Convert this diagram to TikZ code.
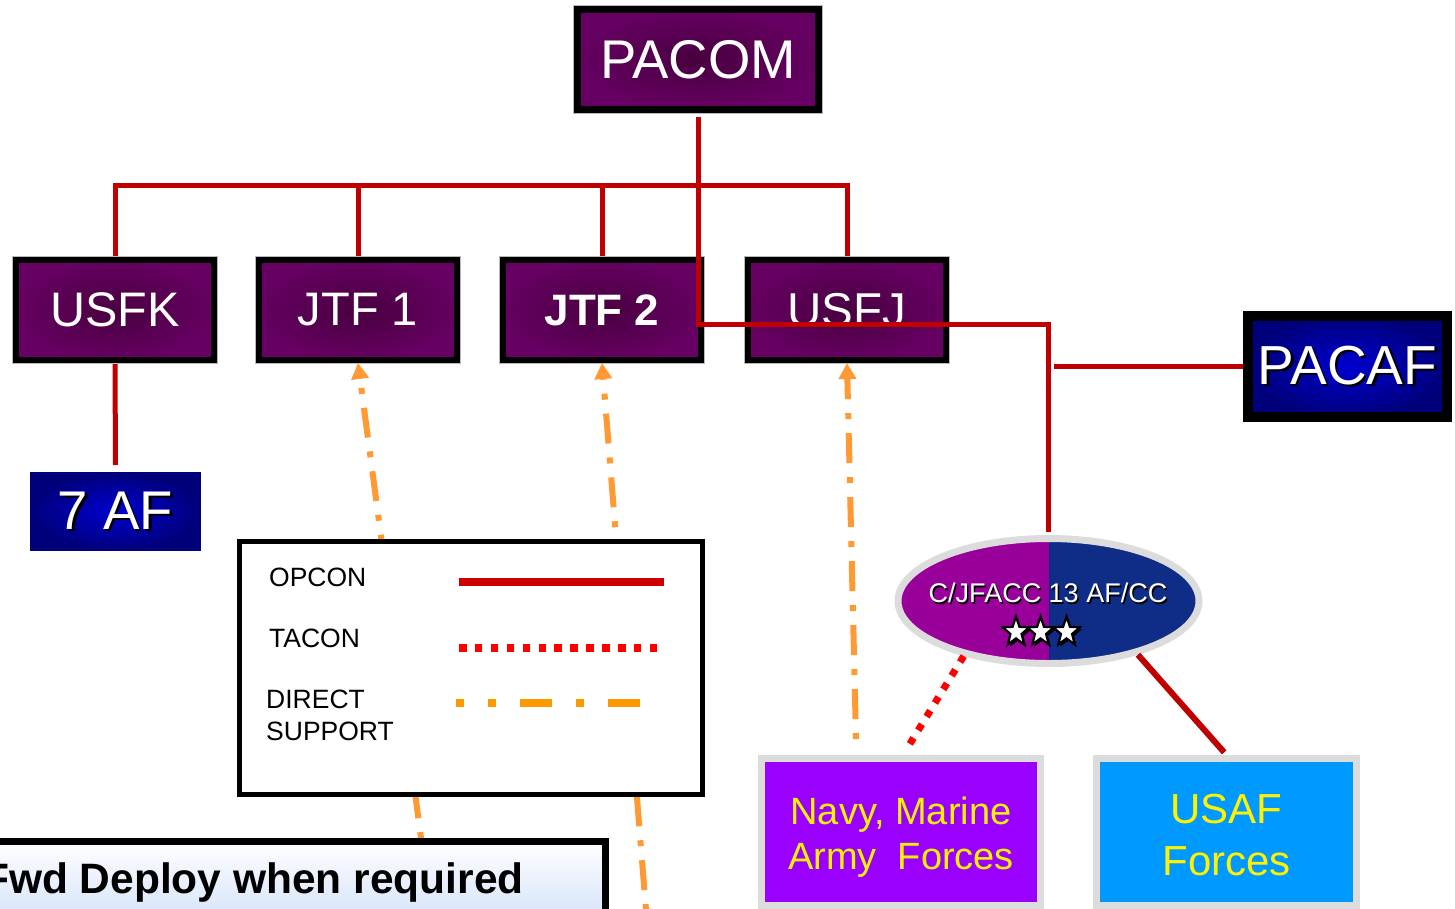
\documentclass[tikz,border=0pt]{standalone}
\usepackage{fontspec}
\setmainfont{Liberation Sans}
\usetikzlibrary{arrows.meta,shapes.geometric}
\pgfdeclarelayer{bg}
\pgfsetlayers{bg,main}
\definecolor{pin}{HTML}{48003F}
\definecolor{pout}{HTML}{660062}
\definecolor{bin}{HTML}{0000D0}
\definecolor{bout}{HTML}{00007A}
\definecolor{opc}{HTML}{C00000}
\definecolor{opcl}{HTML}{CC0000}
\definecolor{tac}{HTML}{FF0000}
\definecolor{dso}{HTML}{FF9933}
\definecolor{dsl}{HTML}{FF9900}
\definecolor{elp}{HTML}{990099}
\definecolor{eln}{HTML}{0F2D87}
\definecolor{nvy}{HTML}{9900FF}
\definecolor{usb}{HTML}{0099FF}
\definecolor{gbr}{HTML}{DCDCDC}
\definecolor{fwdb}{HTML}{C9DBF8}
\newcommand\shtxt[2][2.5pt]{\makebox[0pt][l]{\kern#1\raisebox{-#1}{\textcolor{black}{#2}}}#2}
\newcommand\fsz[2]{\fontsize{#1}{#2}\selectfont}
\begin{document}
\begin{tikzpicture}[x=1pt,y=-1pt,
  cmdbox/.style={draw=black, line width=6pt, preaction={draw=gray!55, line width=8pt},
    inner color=pin, outer color=pout, minimum width=198pt, minimum height=100pt,
    inner sep=0pt, text=white, font=\fsz{48.5}{52}},
  opcon/.style={opc, line width=5pt},
  tacon/.style={tac, line width=7pt, dash pattern=on 7pt off 9pt},
  dsup/.style={dso, line width=6pt, dash pattern=on 6pt off 14pt on 30pt off 14pt,
    -{Triangle[length=16pt,width=17pt]}},
  forcebox/.style={draw=gbr, line width=7pt, minimum height=147pt, inner sep=0pt,
    text=yellow, align=center},
  legtxt/.style={anchor=base west, font=\fsz{26.5}{30}, inner sep=0pt},
  starw/.style={star, star points=5, star point ratio=2.4, minimum size=28pt, inner sep=0pt, transform shape}
]
\useasboundingbox (0,0) rectangle (1455,908);
\begin{pgfonlayer}{bg}
\fill[white] (0,0) rectangle (1455,908);
\end{pgfonlayer}

% command boxes
\node[cmdbox, line width=7pt, preaction={draw=gray!55, line width=9pt}, minimum width=241pt, font=\fsz{54.5}{58}] (pacom) at (698,59.5) {PACOM};
\node[cmdbox] (usfk) at (115,310) {USFK};
\node[cmdbox, font=\fsz{47}{50}] (jtf1) at (358,310) {JTF 1};
\node[cmdbox, font=\bfseries\fsz{44}{48}] (jtf2) at (602,310) {JTF 2};
\node[cmdbox, font=\fsz{47.5}{50}] (usfj) at (847,310) {USFJ};

% air force boxes
\node[draw=bout, line width=1pt, inner color=bin, outer color=bout, minimum width=170pt, minimum height=78pt,
  inner sep=0pt, text=white, font=\fsz{54.5}{58}] (af7) at (115.5,511.5) {\shtxt{7 AF}};
\node[draw=black, line width=10pt, inner color=bin, outer color=bout, minimum width=199pt, minimum height=101pt,
  inner sep=0pt, text=white, font=\fsz{55}{58}] (pacaf) at (1347.5,366.5) {\shtxt{PACAF}};

% C/JFACC ellipse
\node[ellipse, draw=gbr, line width=7pt, minimum width=301pt, minimum height=125pt, inner sep=0pt,
  path picture={
    \fill[elp] (path picture bounding box.south west) rectangle (path picture bounding box.north);
    \fill[eln] (path picture bounding box.north) rectangle (path picture bounding box.south east);}] (cj) at (1048.5,601) {};
\node[text=white, font=\fsz{27}{30}, inner sep=0pt] (cjt) at (1048,594) {\shtxt[1.5pt]{C/JFACC 13 AF/CC}};
\begin{scope}[shift={(1016,632)}, yscale=1.1]
  \node[starw, fill=black] (s1sh) at (2pt,-2pt) {};
  \node[starw, fill=white, draw=black, line width=2.2pt] (s1) at (0,0) {};
\end{scope}
\begin{scope}[shift={(1040.5,632)}, yscale=1.1]
  \node[starw, fill=black] (s2sh) at (2pt,-2pt) {};
  \node[starw, fill=white, draw=black, line width=2.2pt] (s2) at (0,0) {};
\end{scope}
\begin{scope}[shift={(1066.5,632)}, yscale=1.1]
  \node[starw, fill=black] (s3sh) at (2pt,-2pt) {};
  \node[starw, fill=white, draw=black, line width=2.2pt] (s3) at (0,0) {};
\end{scope}

% force boxes
\node[forcebox, fill=nvy, minimum width=279pt, font=\fsz{38}{45}] (navy) at (901,832) {\rule{0pt}{38pt}Navy, Marine\\Army\ \ Forces};
\node[forcebox, fill=usb, minimum width=260pt, font=\fsz{42}{52}] (usaf) at (1226.5,832) {\rule{0pt}{36pt}USAF\\Forces};

% OPCON lines (behind boxes)
\coordinate (pa) at (1054,366);
\begin{pgfonlayer}{bg}
\draw[opcon] (usfk.north) -- (usfk.north |- 0,185) -- (usfj.north |- 0,185) -- (usfj.north);
\draw[opcon] (jtf1.north) -- (jtf1.north |- 0,185);
\draw[opcon] (jtf2.north) -- (jtf2.north |- 0,185);
\draw[opcon] (usfk.south) -- ([yshift=7pt]af7.north);
\draw[opcon] (pa) -- (pa -| pacaf.west);
\end{pgfonlayer}
\draw[opcon, shorten <=3.5pt, shorten >=3.5pt] (pacom.south) -- (698,324) -- (1048.5,324) -- (cj.north);
\draw[opcon, line width=6pt, shorten >=3.5pt] (cj.-31) -- (usaf.north);
\draw[tacon, shorten >=9pt] (cj.-147) -- ([xshift=2pt]navy.north);

% direct support lines
\coordinate (d1) at (421,838);
\coordinate (d2) at (646,910);
\draw[dsup] (d1) -- (jtf1.south);
\draw[dsup] (d2) -- (jtf2.south);
\draw[dsup] ([xshift=-45pt,yshift=16pt]navy.north) -- (usfj.south);

% legend
\node[draw=black, line width=5pt, fill=white, minimum width=463pt, minimum height=253pt, inner sep=0pt] (legend) at (471,668) {};
\node[legtxt] (lop) at (269,586) {OPCON};
\node[legtxt] (lta) at (269,647) {TACON};
\node[legtxt] (ldi) at (266,708) {DIRECT};
\node[legtxt] (lsu) at (266,740) {SUPPORT};
\draw[opcl, line width=8pt] (459,582) -- (664,582);
\draw[tac, line width=7.5pt, dash pattern=on 7.5pt off 8.4pt] (459,648) -- (657,648);
\draw[dsl, line width=8pt, dash pattern=on 8pt off 24pt on 8pt off 24pt on 32pt off 24pt on 8pt off 24pt on 32pt off 24pt] (456,703) -- (640,703);

% forward deploy box
\node[draw=black, line width=7pt, top color=white, bottom color=fwdb, minimum width=626pt, minimum height=100pt, inner sep=0pt] (fwd) at (292.75,891.5) {};
\node[anchor=base east, font=\bfseries\fsz{42.5}{46}, inner sep=0pt] (fwdt) at (524,893) {Fwd Deploy when required};
\end{tikzpicture}
\end{document}
